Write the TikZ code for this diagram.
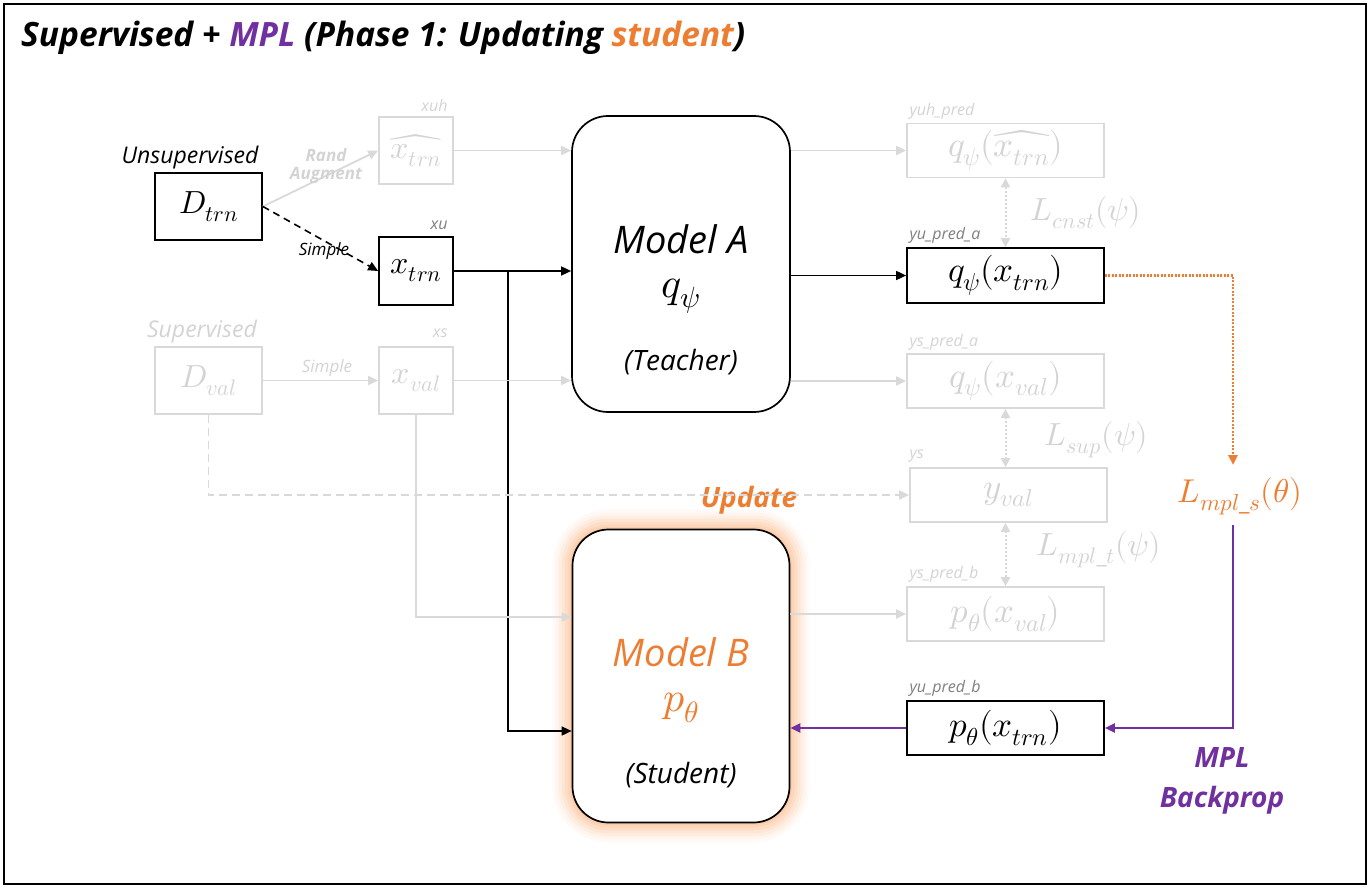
\documentclass[tikz,border=0pt]{standalone}
\usepackage{fontspec}
\usepackage{unicode-math}
\setmainfont{Open Sans}
\setmathfont{Latin Modern Math}
\usetikzlibrary{arrows.meta}
\definecolor{lg}{HTML}{D9D9D9}
\definecolor{lgt}{HTML}{D3D3D3}
\definecolor{dg}{HTML}{7F7F7F}
\definecolor{org}{HTML}{ED7D31}
\definecolor{pur}{HTML}{7030A0}
\definecolor{glow}{HTML}{FBB27E}
\tikzset{
  bx/.style={draw=black, line width=1.7pt, inner sep=0pt, font=\fontsize{32}{36}\selectfont},
  gbx/.style={draw=lg, line width=1.7pt, inner sep=0pt, text=lgt, font=\fontsize{32}{36}\selectfont},
  obx/.style={font=\fontsize{35}{38}\selectfont},
  tag/.style={font=\itshape\fontsize{16}{18}\selectfont, text=dg},
  gtag/.style={font=\itshape\fontsize{16}{18}\selectfont, text=lgt},
  arr/.style={-{Triangle[length=10pt,width=9pt]}, line width=1.6pt},
  garr/.style={arr, draw=lg, line width=1.8pt},
  darr/.style={{Triangle[length=9pt,width=9pt]}-{Triangle[length=9pt,width=9pt]}, line width=2pt, draw=lg, dash pattern=on 2pt off 2pt},
  parr/.style={arr, draw=pur, line width=2.4pt},
  model/.style={draw=black, fill=white, line width=1.7pt, rounded corners=36pt, inner sep=0pt},
  lossg/.style={text=lgt, font=\fontsize{32}{36}\selectfont},
}
\begin{document}
\begin{tikzpicture}[x=1pt,y=-1pt]
\useasboundingbox (0,0) rectangle (1370,888);
\draw[line width=1.5pt] (4,4) rectangle (1366,884);

% title
\node[anchor=west, inner sep=0pt, font=\bfseries\itshape\fontsize{33.5}{37}\selectfont] (title) at (21,38)
  {Supervised + \textcolor{pur}{MPL} (Phase 1: Updating \textcolor{org}{student})};

% left inputs
\node[font=\itshape\fontsize{23}{26}\selectfont] (unsup) at (190,158) {Unsupervised};
\node[bx, minimum width=107, minimum height=67] (dtrn) at (208.5,206.5) {$D_{trn}$};
\node[gbx, minimum width=74, minimum height=67] (xhat) at (416,150.5) {$\widehat{x_{trn}}$};
\node[bx, minimum width=74, minimum height=68] (xtrn) at (416,271) {$x_{trn}$};
\node[gtag, anchor=east] (xuhlbl) at (451,106) {xuh};
\node[tag, anchor=east] (xulbl) at (451,225) {xu};

\node[font=\itshape\fontsize{23}{26}\selectfont, text=lgt] (sup) at (202,332) {Supervised};
\node[gbx, minimum width=107, minimum height=67] (dval) at (208.5,380.5) {$D_{val}$};
\node[gbx, minimum width=74, minimum height=67] (xval) at (416,380.5) {$x_{val}$};
\node[gtag, anchor=east] (xslbl) at (451,333) {xs};

% models
\node[model, minimum width=218, minimum height=296] (modelA) at (681,264) {};
\node[font=\itshape\fontsize{38}{42}\selectfont] (mAt) at (681,239) {Model A};
\node[font=\fontsize{42}{46}\selectfont] (mAq) at (681,296) {$q_\psi$};
\node[font=\itshape\fontsize{28}{32}\selectfont] (mAr) at (681,362) {(Teacher)};

\foreach \w/\o in {40/0.06,34/0.08,28/0.1,22/0.13,16/0.16,10/0.2,5/0.25}
  \draw[glow, opacity=\o, line width=\w pt, rounded corners=36pt] (572.5,529.5) rectangle (789.5,822.5);
\node[model, minimum width=217, minimum height=293] (modelB) at (681,676) {};
\node[font=\itshape\fontsize{38}{42}\selectfont, text=org] (mBt) at (681,652) {Model B};
\node[font=\fontsize{42}{46}\selectfont, text=org] (mBp) at (681,708) {$p_\theta$};
\node[font=\itshape\fontsize{28}{32}\selectfont] (mBr) at (681,775) {(Student)};

% outputs
\node[gbx, obx, minimum width=197, minimum height=54] (yuh) at (1005.5,150.5) {$q_\psi(\widehat{x_{trn}})$};
\node[bx, obx, minimum width=197, minimum height=55] (yua) at (1005.5,275.5) {$q_\psi(x_{trn})$};
\node[gbx, obx, minimum width=197, minimum height=54] (ysa) at (1005.5,381) {$q_\psi(x_{val})$};
\node[gbx, obx, minimum width=197, minimum height=54] (ys) at (1008.5,495) {$y_{val}$};
\node[gbx, obx, minimum width=197, minimum height=54] (ysb) at (1005.5,614) {$p_\theta(x_{val})$};
\node[bx, obx, minimum width=197, minimum height=54] (yub) at (1005.5,728) {$p_\theta(x_{trn})$};

\node[gtag, anchor=west] (yuhlbl) at (906,111) {yuh\_pred};
\node[tag, anchor=west] (yualbl) at (906,235) {yu\_pred\_a};
\node[gtag, anchor=west] (ysalbl) at (906,342) {ys\_pred\_a};
\node[gtag, anchor=west] (yslbl) at (906,456) {ys};
\node[gtag, anchor=west] (ysblbl) at (906,574) {ys\_pred\_b};
\node[tag, anchor=west] (yublbl) at (906,688) {yu\_pred\_b};

\node[lossg] (lcnst) at (1086,213) {$L_{cnst}(\psi)$};
\node[lossg] (lsup) at (1096,440) {$L_{sup}(\psi)$};
\node[lossg] (lmplt) at (1099,550) {$L_{mpl\_t}(\psi)$};
\node[text=org, font=\fontsize{33}{36}\selectfont] (lmpls) at (1240,496) {$L_{mpl\_s}(\theta)$};

\node[text=org, font=\bfseries\itshape\fontsize{28}{30}\selectfont] (upd) at (749,500) {Update};
\node[text=pur, font=\bfseries\itshape\fontsize{28}{40}\selectfont, align=center] (mplbp) at (1222,781) {MPL\\Backprop};

% connectors
\draw[garr] (dtrn.east) -- (xhat.west);
\node[text=lgt, font=\bfseries\itshape\fontsize{17}{18}\selectfont, align=center] (randlbl) at (326,166) {Rand\\Augment};
\draw[arr, dash pattern=on 7pt off 5pt] (dtrn.east) -- (xtrn.west);
\node[font=\itshape\fontsize{17}{19}\selectfont] (simplbl) at (324,251) {Simple};

\draw[garr] (xhat.east) -- (xhat.east -| modelA.west);
\draw[arr] (xtrn.east) -- (xtrn.east -| modelA.west);
\coordinate (br) at (508,271);
\coordinate (bin) at (modelB.west |- 0,731);
\draw[arr] (br) |- (bin);

\draw[garr] (dval.east) -- (xval.west);
\node[text=lgt, font=\itshape\fontsize{17}{19}\selectfont] (gsimp) at (327,368) {Simple};
\draw[garr] (xval.east) -- (xval.east -| modelA.west);
\draw[garr, dash pattern=on 8pt off 5pt] (dval.south) |- (ys.west);
\coordinate (bvin) at (modelB.west |- 0,617);
\draw[garr] (xval.south) |- (bvin);

\draw[garr] (modelA.east |- yuh) -- (yuh.west);
\draw[arr] (modelA.east |- yua) -- (yua.west);
\draw[garr] (modelA.east |- ysa) -- (ysa.west);
\draw[garr] (modelB.east |- ysb) -- (ysb.west);

\draw[darr] (yuh.south) -- (yua.north);
\draw[darr] (ysa.south) -- (ysa.south |- ys.north);
\draw[darr] (ys.south -| ysb.north) -- (ysb.north);

\coordinate (lin) at (1233,465);
\coordinate (lout) at (1233,525);
\draw[-{Triangle[length=10pt,width=9pt]}, draw=org, line width=2.6pt, dash pattern=on 2pt off 1.5pt]
  (yua.east) -| (lin);
\draw[parr] (lout) |- (yub.east);
\draw[parr] (yub.west) -- (modelB.east |- yub);
\end{tikzpicture}
\end{document}
